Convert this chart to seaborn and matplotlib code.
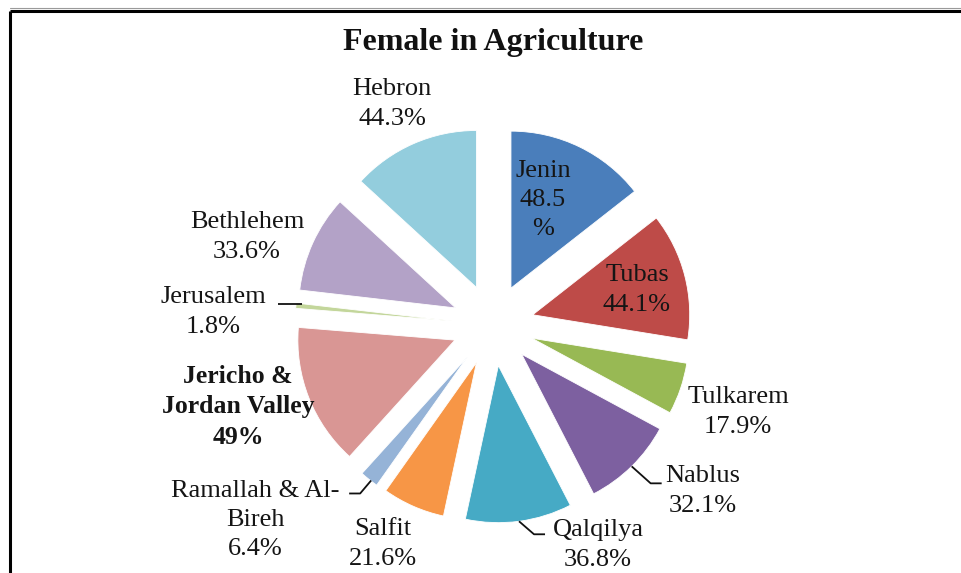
import numpy as np
import matplotlib
matplotlib.use("Agg")
import matplotlib.pyplot as plt
import seaborn as sns

# ---------------- data ----------------
regions = ["Jenin", "Tubas", "Tulkarem", "Nablus", "Qalqilya", "Salfit",
           "Ramallah & Al-Bireh", "Jericho & Jordan Valley", "Jerusalem",
           "Bethlehem", "Hebron"]
values = [48.5, 44.1, 17.9, 32.1, 36.8, 21.6, 6.4, 49.0, 1.8, 33.6, 44.3]
label_texts = ["Jenin\n48.5\n%", "Tubas\n44.1%", "Tulkarem\n17.9%",
               "Nablus\n32.1%", "Qalqilya\n36.8%", "Salfit\n21.6%",
               "Ramallah & Al-\nBireh\n6.4%", "Jericho &\nJordan Valley\n49%",
               "Jerusalem\n1.8%", "Bethlehem\n33.6%", "Hebron\n44.3%"]
title = "Female in Agriculture"

# ---------------- style ----------------
sns.set_theme(style="white")
plt.rcParams['font.family'] = ['Liberation Serif', 'DejaVu Serif']
colors = sns.color_palette(["#4A7EBB", "#BE4B48", "#98B954", "#7D60A0", "#46AAC5",
                            "#F79646", "#95B3D7", "#D99694", "#C3D69B", "#B3A2C7",
                            "#93CDDD"])

W, H = 962, 573
fig = plt.figure(figsize=(W / 100, H / 100), dpi=100)
ax = fig.add_axes([0, 0, 1, 1])


def P(x, y):
    """image pixel coords (y down) -> data coords (y up)"""
    return x, H - y


CX, CY = P(493, 325)
R = 157
EXPL = 41

wedges, _ = ax.pie(values, colors=colors, startangle=90, counterclock=False,
                   radius=R, center=(CX, CY), explode=[EXPL] * len(values),
                   wedgeprops=dict(linewidth=0.6, edgecolor="white"))
ax.set_xlim(0, W)
ax.set_ylim(0, H)
ax.set_aspect("equal")
ax.axis("off")

# label positions (image pixels, block centres)
label_pos = [(543, 200), (637, 290), (738, 412), (703, 491), (598, 545),
             (383, 544), (255, 520), (238, 407), (213, 312), (247, 237),
             (392, 104)]
bold = [False] * 7 + [True] + [False] * 3
txt_color = "#151515"
for lab, (lx, ly), b in zip(label_texts, label_pos, bold):
    x, y = P(lx, ly)
    ax.text(x, y, lab, ha="center", va="center",
            fontsize=18.5 if b else 19,
            fontweight="bold" if b else "normal", color=txt_color,
            linespacing=1.42)

# leader lines: offsets (image px) from the wedge's outer mid point
leaders = {3: [(0, 0), (19, 17), (30, 17)],
           4: [(0, 0), (15, 13), (26, 13)],
           6: [(2, 1), (-9, 14), (-20, 14)],
           8: [(6, -2), (-18, -2)]}
for i, pts in leaders.items():
    w = wedges[i]
    mid = np.deg2rad(0.5 * (w.theta1 + w.theta2))
    px = w.center[0] + w.r * np.cos(mid)
    py = w.center[1] + w.r * np.sin(mid)
    xs = [px + dx for dx, dy in pts]
    ys = [py - dy for dx, dy in pts]
    ax.plot(xs, ys, color="#111111", lw=1.3, solid_capstyle="butt")

# title
tx, ty = P(493, 50)
ax.text(tx, ty, title, ha="center", va="baseline", fontsize=23,
        fontweight="bold", color="#111111")

# chart frame (top and left edges visible)
ax.plot([10.5, W], [H - 10.7, H - 10.7], color="black", lw=2.2,
        solid_capstyle="butt", clip_on=False)
ax.plot([10.5, 10.5], [0, H - 10.7], color="black", lw=2.2,
        solid_capstyle="butt", clip_on=False)
ax.plot([10.5, W], [H - 8.3, H - 8.3], color="#9a9a9a", lw=0.8, clip_on=False)

fig.savefig("out.png", dpi=100, facecolor="white")
